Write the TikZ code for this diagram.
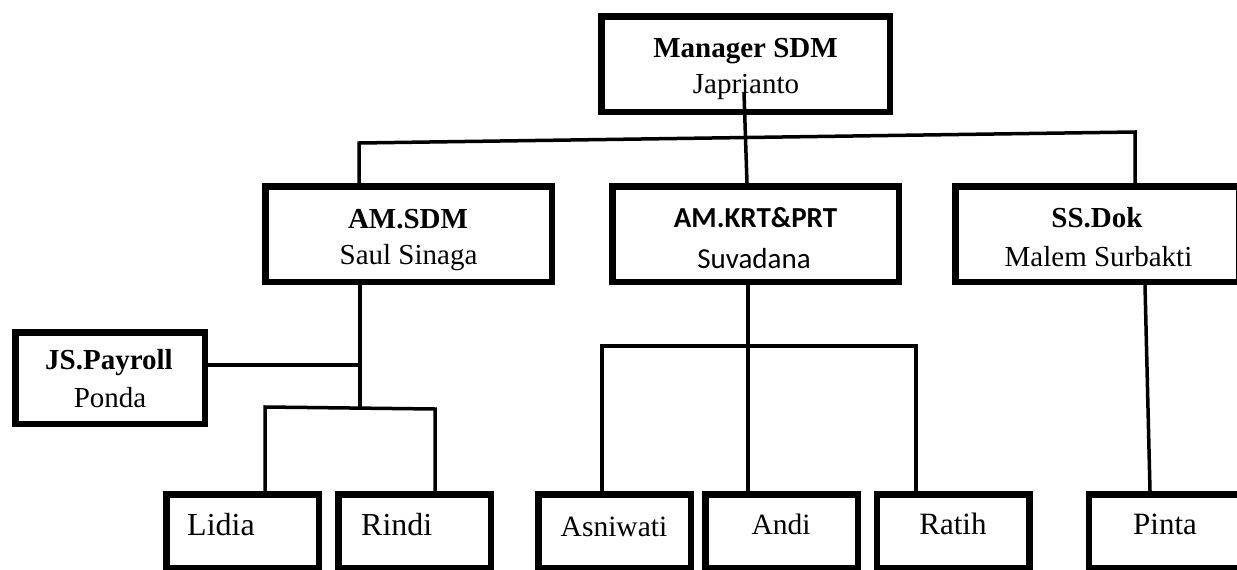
\documentclass[tikz,border=0pt]{standalone}
\usepackage{fontspec}
\setmainfont{Liberation Serif}
\newfontfamily\calibri{Carlito}
\begin{document}
\begin{tikzpicture}[x=1pt,y=-1pt,
  box/.style={draw, line width=6.5pt, inner sep=0pt},
  bigbox/.style={box, minimum width=286.5pt, minimum height=95.5pt},
  smallbox/.style={box, minimum width=152.5pt, minimum height=73.5pt},
  txt/.style={inner sep=0pt, anchor=base, font=\fontsize{29}{36}\selectfont},
  ltxt/.style={txt, anchor=base west, font=\fontsize{32}{38}\selectfont},
  btxt/.style={txt, font=\fontsize{31}{38}\selectfont},
  ctxt/.style={txt, font=\calibri\fontsize{29}{36}\selectfont},
  conn/.style={line width=3.5pt},
]
\fill[white] (0,0) rectangle (1237,570);
\useasboundingbox (0,0) rectangle (1237,570);
\clip (0,0) rectangle (1237,570);

% boxes
\node[box, minimum width=288.5pt, minimum height=95.5pt] (mgr) at (745.5,64) {};
\node[bigbox] (amsdm) at (408.5,234) {};
\node[bigbox] (amkrt) at (755.5,234) {};
\node[bigbox, minimum width=283.5pt] (ssdok) at (1097,234) {};
\node[box, minimum width=189.5pt, minimum height=91.5pt] (jsp) at (110,378) {};
\node[smallbox] (lidia) at (242.5,531) {};
\node[smallbox] (rindi) at (414.5,531) {};
\node[smallbox] (asni) at (614.5,531) {};
\node[smallbox] (andi) at (781.5,531) {};
\node[smallbox] (ratih) at (953,531) {};
\node[smallbox] (pinta) at (1165,531) {};

% texts
\node[txt] (mgrA) at (745.5,57) {\textbf{Manager SDM}};
\node[txt] (mgrB) at (746,93) {Japrianto};
\node[txt] (amsdmA) at (408,228) {\textbf{AM.SDM}};
\node[txt] (amsdmB) at (408.5,264) {Saul Sinaga};
\node[ctxt] (amkrtA) at (755.5,227) {\textbf{AM.KRT\&PRT}};
\node[ctxt] (amkrtB) at (754,268) {Suvadana};
\node[txt] (ssdokA) at (1097,227) {\textbf{SS.Dok}};
\node[txt] (ssdokB) at (1098.5,266) {Malem Surbakti};
\node[txt] (jspA) at (109,369) {\textbf{JS.Payroll}};
\node[txt] (jspB) at (110,407) {Ponda};
\node[ltxt] (lidiaT) at (187,535) {Lidia};
\node[ltxt] (rindiT) at (361,535) {Rindi};
\node[txt, font=\fontsize{29.5}{36}\selectfont] (asniT) at (614,536) {Asniwati};
\node[txt, font=\fontsize{29.5}{36}\selectfont] (andiT) at (781,534) {Andi};
\node[btxt] (ratihT) at (953,534) {Ratih};
\node[btxt] (pintaT) at (1165,534) {Pinta};

% connector coordinates
\coordinate (mt) at (744,93);
\coordinate (mb) at (747,183);
\coordinate (hl) at (359,143);
\coordinate (hr) at (1135,132);
\coordinate (sd) at (360,407);
\coordinate (jj) at (360,365);
\coordinate (ll) at (265,407);
\coordinate (rr) at (435,409);
\coordinate (kc) at (748,346);
\coordinate (kl) at (602,346);
\coordinate (kr) at (916,346);
\coordinate (st) at (1145,285);
\coordinate (pb) at (1150,491);

% connectors
\draw[conn] (mt) -- (mb |- amkrt.north);
\draw[conn] (hl |- amsdm.north) -- (hl) -- (hr) -- (hr |- ssdok.north);
\draw[conn] (sd |- amsdm.south) -- (sd);
\draw[conn] (jsp.east |- jj) -- (jj);
\draw[conn] (ll |- lidia.north) -- (ll) -- (rr) -- (rr |- rindi.north);
\draw[conn] (kc |- amkrt.south) -- (kc |- andi.north);
\draw[conn] (kl |- asni.north) -- (kl) -- (kr) -- (kr |- ratih.north);
\draw[conn] (st) -- (pb);
\end{tikzpicture}
\end{document}
